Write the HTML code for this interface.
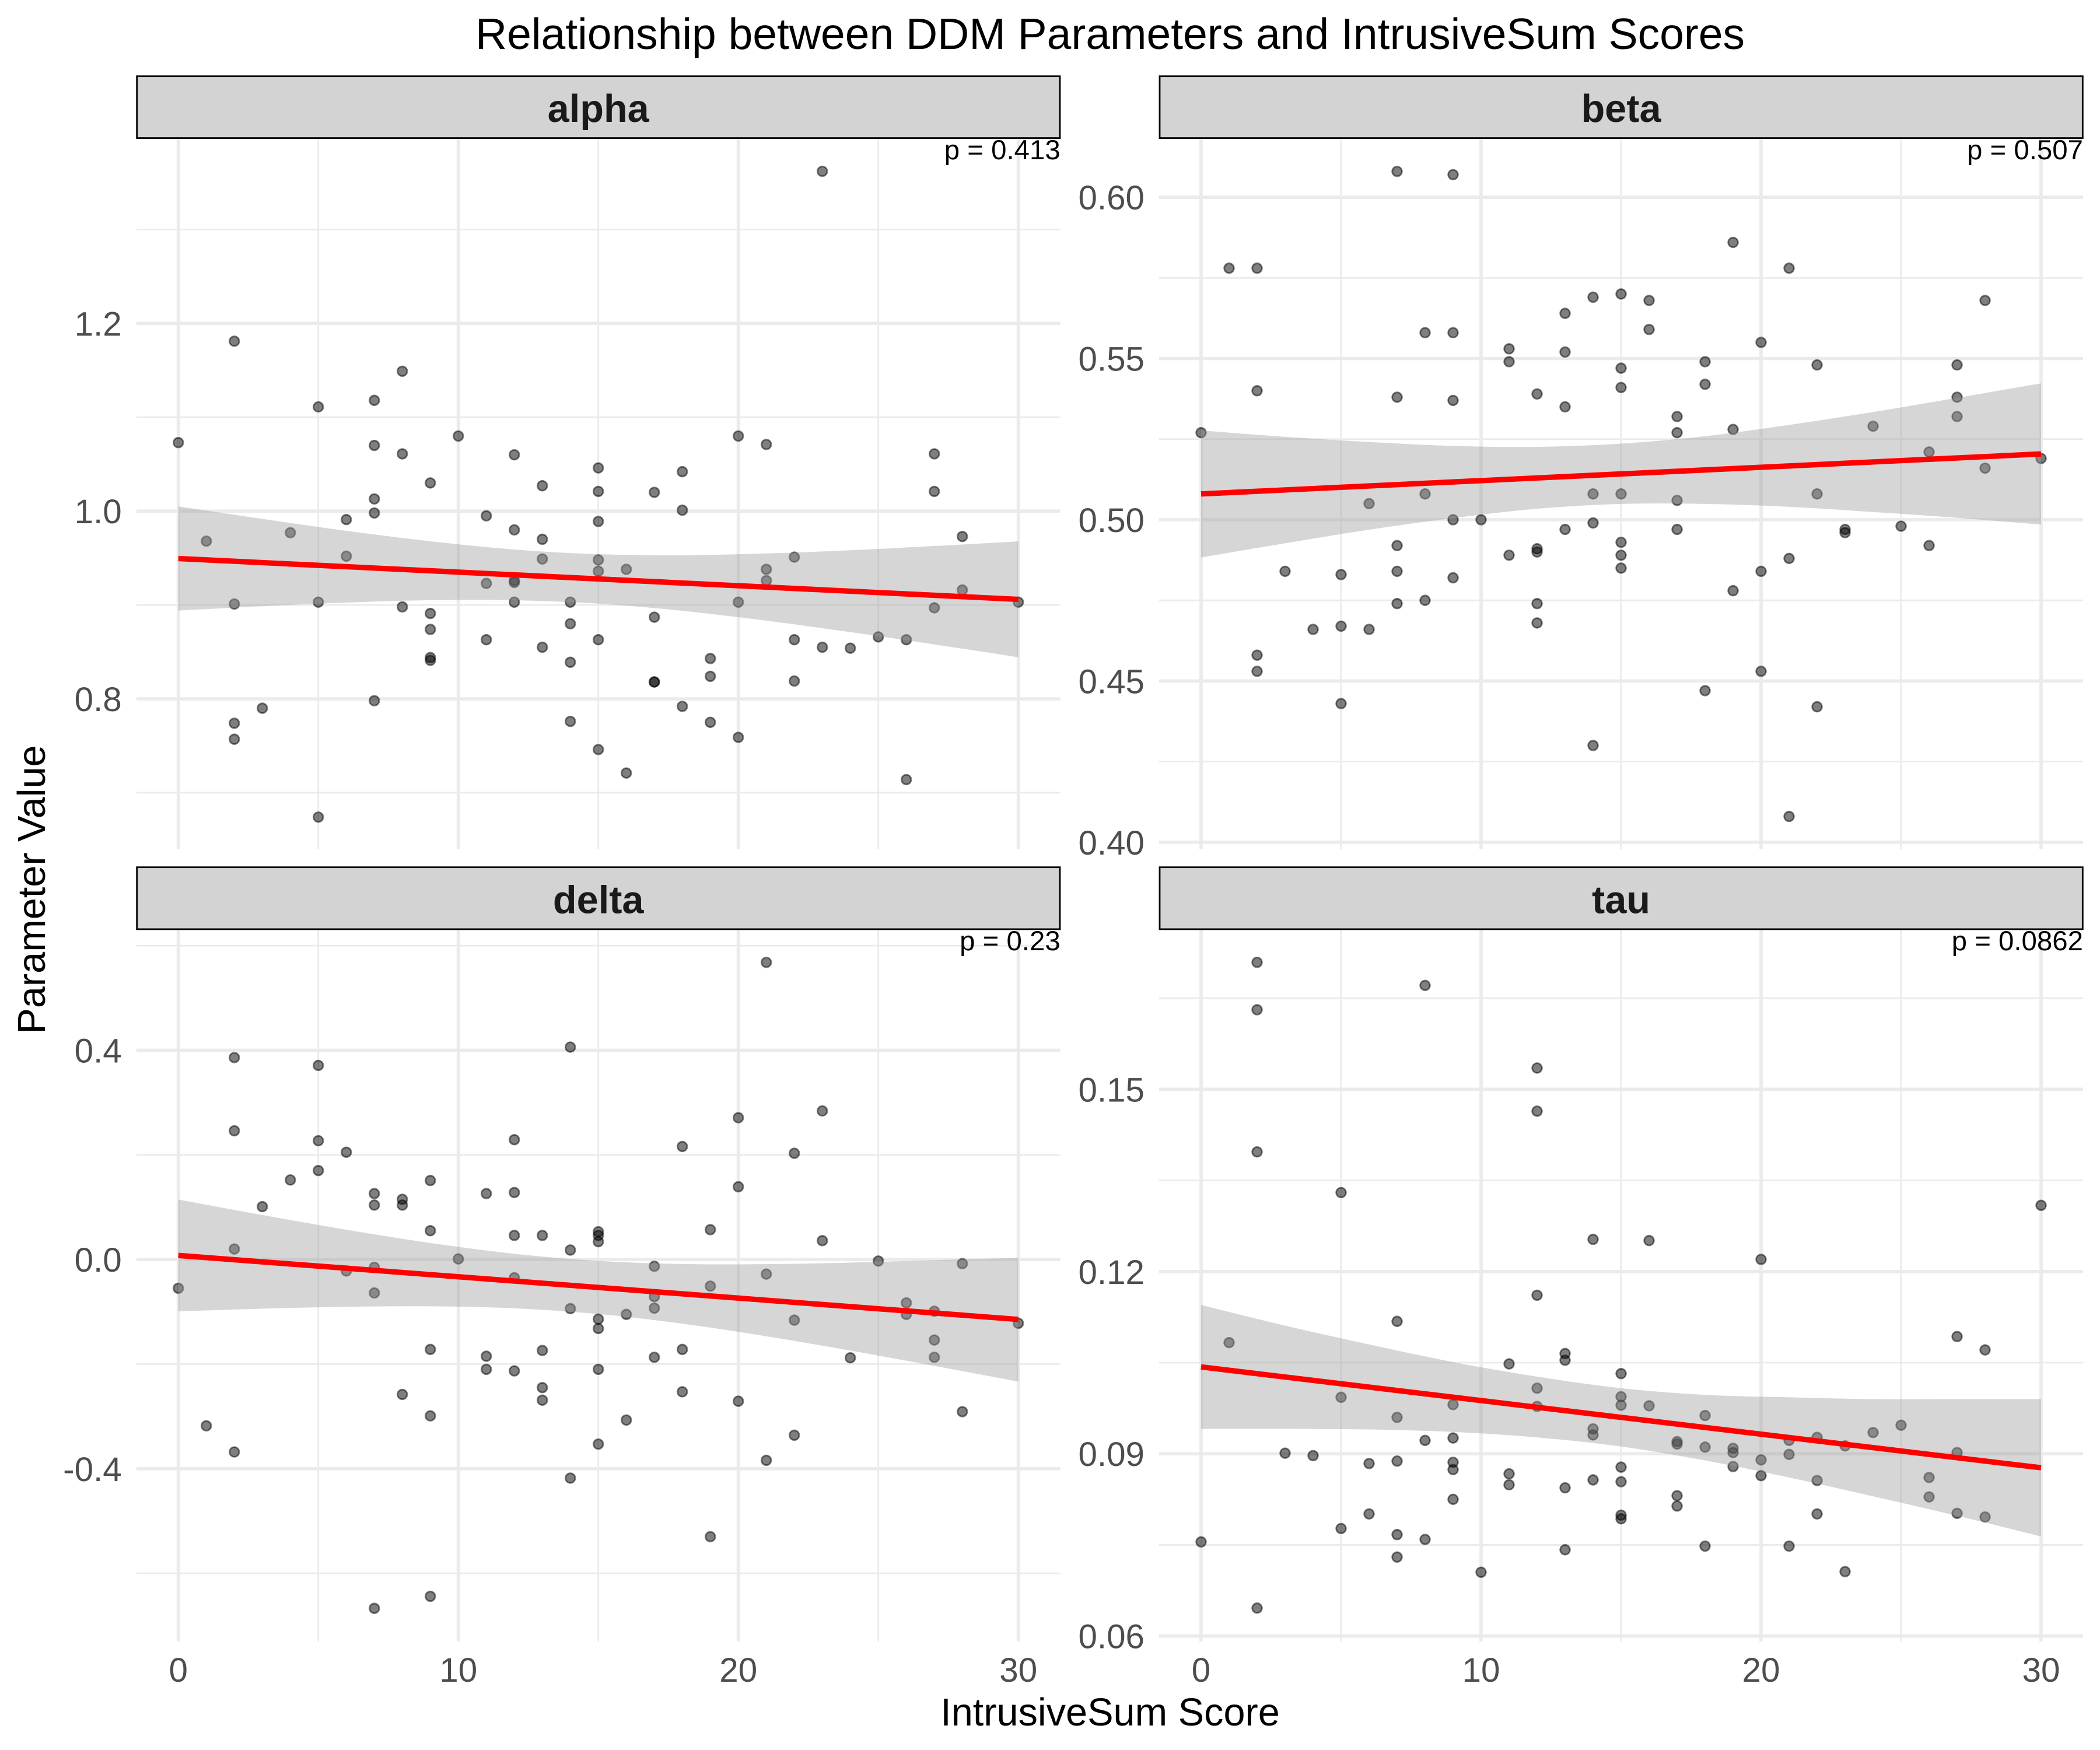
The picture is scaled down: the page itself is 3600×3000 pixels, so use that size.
<!DOCTYPE html>
<html lang="en">
<head>
<meta charset="utf-8">
<title>Relationship between DDM Parameters and IntrusiveSum Scores</title>
<style>
html,body{margin:0;padding:0;background:#fff;}
svg{display:block;}
text{font-family:"Liberation Sans",Arial,Helvetica,sans-serif;}
</style>
</head>
<body>
<svg id="chart" xmlns="http://www.w3.org/2000/svg" width="3600" height="3000" viewBox="0 0 3600 3000">
  <rect x="0" y="0" width="3600" height="3000" fill="#ffffff"/>
  <text x="1903" y="84" font-size="75" text-anchor="middle" fill="#000">Relationship between DDM Parameters and IntrusiveSum Scores</text>
  <text x="1903" y="2958" font-size="66.67" text-anchor="middle" fill="#000">IntrusiveSum Score</text>
  <text transform="translate(77,1525) rotate(-90)" font-size="66.67" text-anchor="middle" fill="#000">Parameter Value</text>
</svg>
<script>
// Shared x values: IntrusiveSum score of each participant
const scores = [0,1,2,2,2,2,3,4,5,5,5,6,6,7,7,7,7,7,8,8,8,9,9,9,9,9,10,11,11,11,12,12,12,12,12,13,13,13,13,14,14,14,14,15,15,15,15,15,15,15,16,16,17,17,17,17,18,18,18,19,19,19,20,20,20,21,21,21,22,22,22,23,23,24,25,26,26,27,27,27,28,28,30];

// Parameter estimates per participant
const alphaValues = [1.073,.968,1.181,.901,.774,.757,.790,.977,1.111,.903,.674,.991,.952,1.118,1.070,1.013,.998,.798,1.149,1.061,.898,1.030,.891,.874,.844,.841,1.080,.995,.923,.863,1.060,.980,.926,.924,.903,1.027,.970,.949,.855,.903,.880,.839,.776,1.046,1.021,.989,.948,.936,.863,.746,.938,.721,1.020,.887,.818,.818,1.042,1.001,.792,.843,.824,.775,1.080,.903,.759,1.071,.938,.926,.951,.863,.819,1.362,.855,.854,.866,.863,.714,1.061,1.021,.897,.973,.916,.903];
const betaValues = [.527,.578,.578,.540,.458,.453,.484,.466,.483,.467,.443,.505,.466,.608,.538,.492,.484,.474,.558,.508,.475,.607,.558,.537,.500,.482,.500,.553,.549,.489,.539,.491,.490,.474,.468,.564,.552,.535,.497,.569,.508,.499,.430,.570,.547,.541,.508,.493,.489,.485,.568,.559,.532,.527,.506,.497,.549,.542,.447,.586,.528,.478,.555,.484,.453,.578,.488,.408,.548,.508,.442,.497,.496,.529,.498,.521,.492,.548,.538,.532,.568,.516,.519];
const deltaValues = [-.055,-.318,.386,.246,.020,-.368,.101,.152,.371,.227,.170,.205,-.022,.126,.104,-.015,-.064,-.667,.115,.104,-.258,.151,.055,-.172,-.299,-.644,.001,.126,-.185,-.210,.229,.128,.046,-.035,-.213,.046,-.174,-.245,-.269,.406,.018,-.094,-.418,.053,.046,.034,-.114,-.132,-.210,-.353,-.105,-.307,-.013,-.071,-.093,-.187,.216,-.172,-.253,.057,-.051,-.530,.271,.139,-.271,.568,-.028,-.384,.203,-.116,-.336,.284,.036,-.188,-.003,-.083,-.105,-.099,-.154,-.187,-.008,-.291,-.122];
const tauValues = [.0755,.1083,.1709,.1631,.1397,.0646,.0901,.0897,.1330,.0993,.0777,.0884,.0801,.1118,.0960,.0888,.0767,.0730,.1671,.0922,.0759,.0981,.0926,.0886,.0874,.0825,.0705,.1048,.0867,.0849,.1535,.1464,.1161,.1008,.0978,.1065,.1054,.0844,.0742,.1253,.0941,.0931,.0857,.1032,.0994,.0980,.0878,.0854,.0799,.0793,.1251,.0979,.0920,.0916,.0831,.0814,.0963,.0911,.0748,.0909,.0902,.0879,.1220,.0890,.0864,.0922,.0899,.0748,.0927,.0856,.0801,.0913,.0706,.0935,.0947,.0861,.0829,.1093,.0902,.0802,.1071,.0796,.1309];

// Fitted regression line, read at the two ends of the score range
const fitScores = [0,30];
const alphaFit = [.9495,.906];
const betaFit = [.508,.5204];
const deltaFit = [.0077,-.1146];
const tauFit = [.1043,.0877];

// Confidence band limits
const bandScores = [0,3,6,9,12,15,18,21,24,27,30];
const alphaUpper = [1.005,.9917,.979,.9679,.9591,.9541,.953,.9549,.9583,.9628,.9677];
const alphaLower = [.894,.8987,.9026,.9051,.9051,.9015,.8938,.8833,.8711,.858,.8443];
const betaUpper = [.5277,.5257,.5241,.5229,.5226,.5236,.5259,.5294,.5334,.5378,.5423];
const betaLower = [.4883,.4927,.4969,.5005,.5034,.5049,.5049,.504,.5024,.5006,.4985];
const deltaUpper = [.1146,.085,.0569,.0315,.0109,-.0027,-.0087,-.009,-.006,-.0014,.003];
const deltaLower = [-.0992,-.094,-.0905,-.0895,-.0933,-.1043,-.1227,-.1468,-.1742,-.2034,-.2335];
const tauUpper = [.1145,.1111,.108,.1051,.1027,.1008,.0997,.0993,.099,.099,.099];
const tauLower = [.0941,.0941,.094,.0936,.0927,.0912,.0889,.0861,.083,.0798,.0764];

// Axis ticks and labels
const xMajorTicks = [0,10,20,30];
const xMajorLabels = ['0','10','20','30'];
const xMinorTicks = [5,15,25];
const xDomain = [-1.5,31.5];
const alphaDomain = [.6397,1.3969];
const alphaTicks = [.8,1,1.2];
const alphaTickLabels = ['0.8','1.0','1.2'];
const alphaMinor = [.7,.9,1.1,1.3];
const betaDomain = [.3978,.6182];
const betaTicks = [.4,.45,.5,.55,.6];
const betaTickLabels = ['0.40','0.45','0.50','0.55','0.60'];
const betaMinor = [.425,.475,.525,.575];
const deltaDomain = [-.7304,.6308];
const deltaTicks = [-.4,0,.4];
const deltaTickLabels = ['-0.4','0.0','0.4'];
const deltaMinor = [-.6,-.2,.2,.6];
const tauDomain = [.0591,.1763];
const tauTicks = [.06,.09,.12,.15];
const tauTickLabels = ['0.06','0.09','0.12','0.15'];
const tauMinor = [.075,.105,.135,.165];

const panels = [
  {key:'alpha', label:'alpha', p:'p = 0.413', left:233.7, right:1817.7, top:237.5, bottom:1456, stripTop:130.7, stripBottom:236.6, values:alphaValues, fit:alphaFit, upper:alphaUpper, lower:alphaLower, domain:alphaDomain, ticks:alphaTicks, labels:alphaTickLabels, minor:alphaMinor, showX:false},
  {key:'beta', label:'beta', p:'p = 0.507', left:1987, right:3571, top:237.5, bottom:1456, stripTop:130.7, stripBottom:236.6, values:betaValues, fit:betaFit, upper:betaUpper, lower:betaLower, domain:betaDomain, ticks:betaTicks, labels:betaTickLabels, minor:betaMinor, showX:false},
  {key:'delta', label:'delta', p:'p = 0.23', left:233.7, right:1817.7, top:1593.5, bottom:2814, stripTop:1486.7, stripBottom:1592.9, values:deltaValues, fit:deltaFit, upper:deltaUpper, lower:deltaLower, domain:deltaDomain, ticks:deltaTicks, labels:deltaTickLabels, minor:deltaMinor, showX:true},
  {key:'tau', label:'tau', p:'p = 0.0862', left:1987, right:3571, top:1593.5, bottom:2814, stripTop:1486.7, stripBottom:1592.9, values:tauValues, fit:tauFit, upper:tauUpper, lower:tauLower, domain:tauDomain, ticks:tauTicks, labels:tauTickLabels, minor:tauMinor, showX:true}
];

const NS = 'http://www.w3.org/2000/svg';
const svg = document.getElementById('chart');

function make(tag, attrs, parent) {
  const el = document.createElementNS(NS, tag);
  for (const k in attrs) el.setAttribute(k, attrs[k]);
  parent.appendChild(el);
  return el;
}

function smoothSegments(pts) {
  let d = '';
  for (let i = 0; i < pts.length - 1; i++) {
    const p0 = pts[Math.max(i - 1, 0)];
    const p1 = pts[i];
    const p2 = pts[i + 1];
    const p3 = pts[Math.min(i + 2, pts.length - 1)];
    const c1x = p1[0] + (p2[0] - p0[0]) / 6;
    const c1y = p1[1] + (p2[1] - p0[1]) / 6;
    const c2x = p2[0] - (p3[0] - p1[0]) / 6;
    const c2y = p2[1] - (p3[1] - p1[1]) / 6;
    d += ' C' + c1x.toFixed(2) + ' ' + c1y.toFixed(2) + ' ' + c2x.toFixed(2) + ' ' + c2y.toFixed(2) + ' ' + p2[0].toFixed(2) + ' ' + p2[1].toFixed(2);
  }
  return d;
}

panels.forEach(function (cfg) {
  const xScale = function (v) {
    return cfg.left + (v - xDomain[0]) / (xDomain[1] - xDomain[0]) * (cfg.right - cfg.left);
  };
  const yScale = function (v) {
    return cfg.bottom - (v - cfg.domain[0]) / (cfg.domain[1] - cfg.domain[0]) * (cfg.bottom - cfg.top);
  };

  const group = make('g', {}, svg);
  
  

  // Grid: minor first, then major
  cfg.minor.forEach(function (v) {
    const line = make('line', {x1: cfg.left, x2: cfg.right, y1: yScale(v), y2: yScale(v), stroke: '#EBEBEB', 'stroke-width': 2.83}, group);
    
    
  });
  xMinorTicks.forEach(function (v) {
    const line = make('line', {x1: xScale(v), x2: xScale(v), y1: cfg.top, y2: cfg.bottom, stroke: '#EBEBEB', 'stroke-width': 2.83}, group);
    
    
  });
  cfg.ticks.forEach(function (v) {
    const line = make('line', {x1: cfg.left, x2: cfg.right, y1: yScale(v), y2: yScale(v), stroke: '#EBEBEB', 'stroke-width': 5.66}, group);
    
    
  });
  xMajorTicks.forEach(function (v) {
    const line = make('line', {x1: xScale(v), x2: xScale(v), y1: cfg.top, y2: cfg.bottom, stroke: '#EBEBEB', 'stroke-width': 5.66}, group);
    
    
  });

  // Points
  const pointsGroup = make('g', {}, group);
  
  
  cfg.values.forEach(function (v, i) {
    const dot = make('circle', {cx: xScale(scores[i]), cy: yScale(v), r: 8.3, fill: '#000', 'fill-opacity': 0.5, stroke: '#000', 'stroke-opacity': 0.5, 'stroke-width': 2.8}, pointsGroup);
    
    
  });

  // Confidence band
  const up = bandScores.map(function (s, i) { return [xScale(s), yScale(cfg.upper[i])]; });
  const low = bandScores.map(function (s, i) { return [xScale(s), yScale(cfg.lower[i])]; }).reverse();
  const bandPath = 'M' + up[0][0] + ' ' + up[0][1] + smoothSegments(up) + ' L' + low[0][0] + ' ' + low[0][1] + smoothSegments(low) + ' Z';
  const band = make('path', {d: bandPath, fill: '#999999', 'fill-opacity': 0.4}, group);
  
  

  // Regression line
  const fitLine = make('line', {x1: xScale(fitScores[0]), y1: yScale(cfg.fit[0]), x2: xScale(fitScores[1]), y2: yScale(cfg.fit[1]), stroke: '#FF0000', 'stroke-width': 9.3}, group);
  
  

  // Strip
  const strip = make('rect', {x: cfg.left + 1.0, y: cfg.stripTop, width: cfg.right - cfg.left - 1.7, height: cfg.stripBottom - cfg.stripTop, fill: '#D3D3D3', stroke: '#000', 'stroke-width': 2.8}, group);
  
  
  const stripLabel = make('text', {x: (cfg.left + cfg.right) / 2, y: (cfg.stripTop + cfg.stripBottom) / 2 + 25.5, 'font-size': 66.67, 'font-weight': 'bold', 'text-anchor': 'middle', fill: '#1A1A1A'}, group);
  stripLabel.textContent = cfg.label;
  
  

  // P value
  const pText = make('text', {x: cfg.right, y: cfg.top + 35.5, 'font-size': 47.4, 'text-anchor': 'end', fill: '#000'}, group);
  pText.textContent = cfg.p;
  
  

  // Y tick labels
  cfg.ticks.forEach(function (v, i) {
    const t = make('text', {x: cfg.left - 25, y: yScale(v) + 21, 'font-size': 58.33, 'text-anchor': 'end', fill: '#4D4D4D'}, group);
    t.textContent = cfg.labels[i];
    
    
  });

  // X tick labels
  if (cfg.showX) {
    xMajorTicks.forEach(function (v, i) {
      const t = make('text', {x: xScale(v), y: 2883, 'font-size': 58.33, 'text-anchor': 'middle', fill: '#4D4D4D'}, group);
      t.textContent = xMajorLabels[i];
      
      
    });
  }
});
</script>
</body>
</html>
